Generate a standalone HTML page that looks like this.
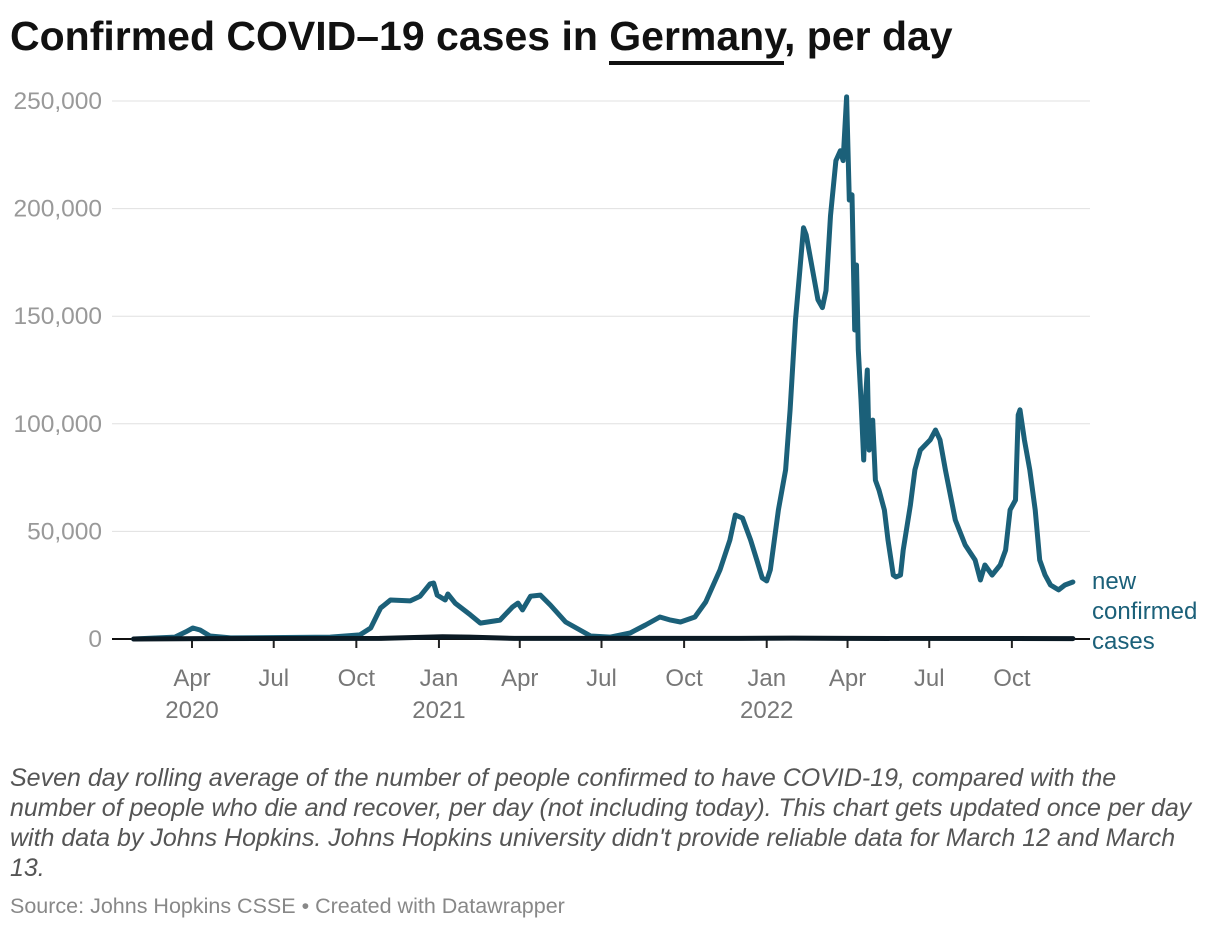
<!DOCTYPE html>
<html><head><meta charset="utf-8">
<style>
body{margin:0;background:#fff;width:1220px;height:930px;overflow:hidden;font-family:"Liberation Sans",sans-serif;}
#title{position:absolute;left:10px;top:13px;font-size:41px;font-weight:bold;color:#111;letter-spacing:0px;margin:0;white-space:nowrap;}
#title u{text-decoration:none;border-bottom:4px solid #111;padding-bottom:2px;}
#desc{position:absolute;left:10px;top:763px;font-size:25px;line-height:30px;font-style:italic;color:#555;white-space:nowrap;}
#source{position:absolute;left:10px;top:894px;font-size:21.5px;color:#888;white-space:nowrap;}
svg{position:absolute;left:0;top:0;}
</style></head>
<body>
<h1 id="title">Confirmed COVID–19 cases in <u>Germany</u>, per day</h1>
<svg id="chart" width="1220" height="930"></svg>
<div id="desc">Seven day rolling average of the number of people confirmed to have COVID-19, compared with the<br>number of people who die and recover, per day (not including today). This chart gets updated once per day<br>with data by Johns Hopkins. Johns Hopkins university didn't provide reliable data for March 12 and March<br>13.</div>
<div id="source">Source: Johns Hopkins CSSE • Created with Datawrapper</div>
<script>
// days since 2020-01-01, values in thousands
const caseDays=[26,72,84,92,100,111,134,245,278,290,301,312,334,345,356,360,364,373,376,384,401,412,434,448,454,459,468,479,490,507,535,557,579,596,612,624,635,651,663,679,690,696,704,713,720,726,731,735,744,752,757,763,768,772,775,782,788,793,797,802,808,813,816,820,823,826,829,831,833,836,839,841,843,845,849,852,856,862,866,872,875,880,883,891,896,902,913,919,924,930,941,952,963,969,974,982,991,997,1002,1008,1011,1013,1018,1024,1030,1035,1041,1047,1056,1063,1072];
const caseVals=[0,0.9,3.3,5.1,4.2,1.4,0.5,0.9,1.9,5.1,14.4,18.1,17.7,19.9,25.6,26.0,20.4,18.1,20.9,16.7,11.2,7.4,8.8,14.9,16.7,13.5,19.9,20.4,15.8,7.9,1.4,0.9,2.8,6.5,10.2,8.8,7.9,10.2,17.2,32.1,46.0,57.6,56.2,46.0,36.7,28.4,27.0,32.1,60.0,78.6,106.5,148.3,171.6,191.1,187.8,171.6,157.7,154.0,161.9,196.7,222.3,226.9,222.3,251.9,204.0,206.4,143.6,173.8,134.3,111.1,83.2,111.1,125.0,87.8,101.7,73.8,69.2,59.9,46.0,29.7,28.8,29.7,41.3,62.2,78.6,87.8,92.5,97.1,92.5,78.6,55.3,43.7,36.7,27.4,34.4,29.7,34.4,41.3,60.0,64.6,104.1,106.5,92.5,78.6,60.0,36.7,29.7,25.1,22.8,25.1,26.5];
const deathDays=[26,100,300,370,400,450,700,760,820,1072];
const deathVals=[0,0.2,0.3,1.0,0.9,0.3,0.3,0.4,0.3,0.2];
const yTicks=[0,50,100,150,200,250];
const yTickLabels=["0","50,000","100,000","150,000","200,000","250,000"];
const xTickDays=[91,182,274,366,456,547,639,731,821,912,1004];
const xTickLabels=["Apr","Jul","Oct","Jan","Apr","Jul","Oct","Jan","Apr","Jul","Oct"];
const xYearLabels=["2020","","","2021","","","","2022","","",""];

const svg=document.getElementById('chart');
const NS='http://www.w3.org/2000/svg';
const x=d=>192+(d-91)*0.898;
const y=v=>639-v*(538/250);
function mk(tag,attrs,parent){const e=document.createElementNS(NS,tag);for(const k in attrs)e.setAttribute(k,attrs[k]);(parent||svg).appendChild(e);return e;}

yTicks.forEach((t,i)=>{
  if(t>0){const g=mk('line',{x1:112,x2:1090,y1:y(t),y2:y(t),stroke:'#e0e0e0','stroke-width':1});
  
  }
  const tx=mk('text',{x:102,y:y(t)+8,'text-anchor':'end','font-size':24.5,fill:'#999','font-family':'Liberation Sans, sans-serif'});
  tx.textContent=yTickLabels[i];
  
  
});
const base=mk('line',{x1:112,x2:1090,y1:639,y2:639,stroke:'#111','stroke-width':2});


xTickDays.forEach((d,i)=>{
  const tk=mk('line',{x1:x(d),x2:x(d),y1:640,y2:648,stroke:'#222','stroke-width':2});
  
  
  const tx=mk('text',{x:x(d),y:686,'text-anchor':'middle','font-size':24,fill:'#777','font-family':'Liberation Sans, sans-serif'});
  tx.textContent=xTickLabels[i];
  
  
  if(xYearLabels[i]){const yr=mk('text',{x:x(d),y:718,'text-anchor':'middle','font-size':24,fill:'#777','font-family':'Liberation Sans, sans-serif'});
  yr.textContent=xYearLabels[i];
  
  }
});
function path(days,vals){return days.map((d,i)=>(i?'L':'M')+x(d).toFixed(1)+','+y(vals[i]).toFixed(1)).join('');}
const cl=mk('path',{d:path(caseDays,caseVals),fill:'none',stroke:'#1b6079','stroke-width':5,'stroke-linejoin':'round','stroke-linecap':'round'});


const dl=mk('path',{d:path(deathDays,deathVals),fill:'none',stroke:'#0b1a24','stroke-width':5,'stroke-linejoin':'round','stroke-linecap':'round'});


const lab=mk('text',{x:1092,y:589,'font-size':24,fill:'#1b6079','font-family':'Liberation Sans, sans-serif'});


["new","confirmed","cases"].forEach((w,i)=>{const ts=mk('tspan',{x:1092,dy:i?30:0},lab);ts.textContent=w;});
</script>
</body></html>
